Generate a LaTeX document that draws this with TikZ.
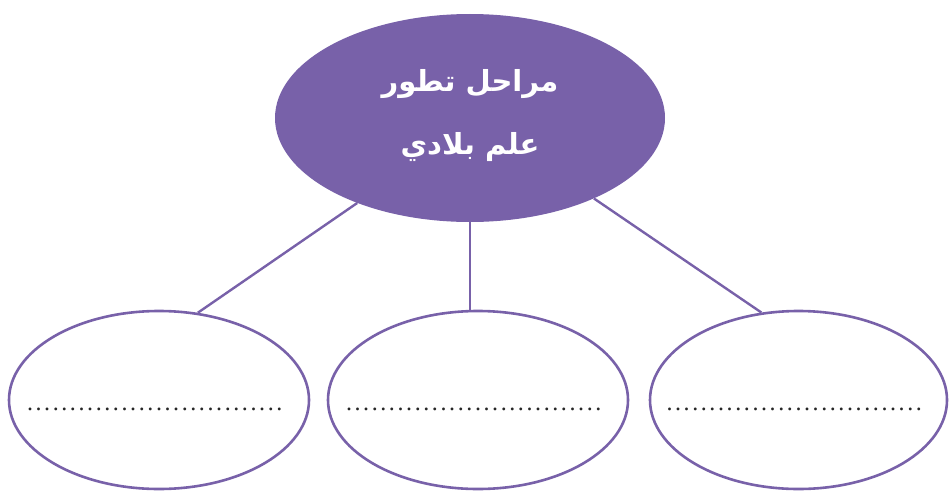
\documentclass[tikz,border=0pt]{standalone}
\usepackage{fontspec}
\setmainfont{Liberation Serif}
\newfontfamily\arabicfont[Script=Arabic]{DejaVu Sans}
\TeXXeTstate=1
\usetikzlibrary{shapes.geometric}
\definecolor{purp}{HTML}{7861A9}
\newcommand{\dotrow}{\hbox to 266.6pt{\leaders\hbox to 8.6pt{\hss.\hss}\hfill}}
\begin{document}
\begin{tikzpicture}[x=1pt,y=-1pt,
  bigoval/.style={ellipse,fill=purp,draw=none,inner sep=0pt,minimum width=390pt,minimum height=208pt},
  smalloval/.style={ellipse,draw=purp,line width=2.6pt,fill=white,inner sep=0pt,minimum width=300pt,minimum height=178pt},
  link/.style={draw=purp,line width=2.4pt},
  dotstext/.style={font=\fontsize{24}{24}\selectfont,text=black!85,inner sep=0pt},
  titletext/.style={font=\arabicfont\bfseries\fontsize{29}{63}\selectfont,text=white,align=center}]
\useasboundingbox (0,0) rectangle (949,495);
\node[bigoval] (top) at (470,118) {};
\node[titletext] (title) at (470,116) {\beginR مراحل تطور\endR\\\beginR علم بلادي\endR};
\node[smalloval] (left) at (159,400) {};
\node[smalloval] (mid) at (478,400) {};
\node[smalloval,minimum width=297pt] (right) at (798.5,400) {};
\node[dotstext] (dl) at (159,409) {\dotrow};
\node[dotstext] (dm) at (478,409) {\dotrow};
\node[dotstext] (dr) at (798.5,409) {\dotrow};
\path[link] (top.217.6) -- (left.66.2);
\path[link] (top.south) -- (top.south |- mid.north);
\path[link] (top.327.8) -- (right.113);
\end{tikzpicture}
\end{document}
